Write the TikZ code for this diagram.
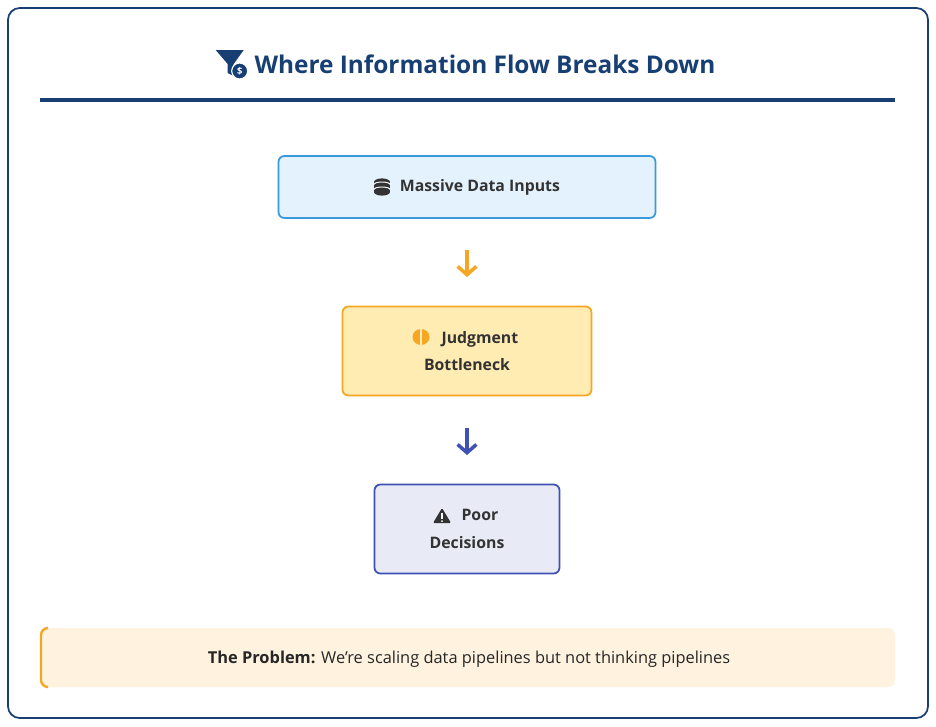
\documentclass[tikz,border=0pt]{standalone}
\usepackage{fontspec}
\setmainfont{Open Sans}
\usetikzlibrary{arrows.meta,positioning}
\definecolor{navy}{HTML}{173F73}
\definecolor{inblue}{HTML}{3A9AD9}
\definecolor{infill}{HTML}{E3F2FD}
\definecolor{jorange}{HTML}{F5A623}
\definecolor{jfill}{HTML}{FFECB3}
\definecolor{pindigo}{HTML}{3F51B5}
\definecolor{pfill}{HTML}{E8EAF6}
\definecolor{notefill}{HTML}{FFF3E0}
\definecolor{ink}{HTML}{333333}
\tikzset{
  stage/.style={draw=#1,line width=1.5pt,rounded corners=5pt,align=center,text=ink,
    font=\fontsize{13.5}{23.5}\selectfont\bfseries},
  flow/.style={-{Straight Barb[length=7pt,width=16pt,line width=3pt]},line width=3pt,#1}
}
\begin{document}
\begin{tikzpicture}[x=0.03cm,y=-0.03cm]
\useasboundingbox (0,0) rectangle (936,726);

% frame
\draw[navy,line width=1.5pt,rounded corners=10pt,fill=white] (8,8) rectangle (928,718);

% title
\node[text=navy,font=\fontsize{20.8}{24}\selectfont\bfseries] (title) at (485,64) {Where Information Flow Breaks Down};
\begin{scope}[shift={(title.west)},xshift=-22]
  \fill[navy] (-9,-14) -- (19,-14) -- (9,0) -- (9,12) -- (3,9) -- (3,0) -- cycle;
  \fill[navy,draw=white,line width=1pt] (15,7) circle (8);
  \node[white,font=\fontsize{8}{8}\selectfont\bfseries,inner sep=0] at (15,7) {\$};
\end{scope}
\draw[navy,line width=3pt] (40,100) -- (895,100);

% stages
\node[stage=inblue,fill=infill,minimum width=377*0.03cm,minimum height=62*0.03cm] (inputs) at (467,187) {\hspace{22pt}Massive Data Inputs};
\node[stage=jorange,fill=jfill,minimum width=249*0.03cm,minimum height=89*0.03cm] (judge) at (467,351) {\hspace{22pt}Judgment\\Bottleneck};
\node[stage=pindigo,fill=pfill,minimum width=185*0.03cm,minimum height=89*0.03cm] (poor) at (467,529) {\hspace{22pt}Poor\\Decisions};

% icons
\begin{scope}[shift={(382,187)}]
  \foreach \yy in {-5,0,5} \fill[ink] (0,\yy) ellipse (8 and 3.6);
  \fill[ink] (-8,-5) rectangle (8,5);
  \draw[white,line width=0.8pt] (-8,-2.5) arc[start angle=180,end angle=360,x radius=8,y radius=2.5];
  \draw[white,line width=0.8pt] (-8,2.5) arc[start angle=180,end angle=360,x radius=8,y radius=2.5];
\end{scope}
\begin{scope}[shift={(421,337)}]
  \fill[jorange] (0,0) ellipse (8.5 and 8);
  \draw[jfill,line width=1pt] (0,-8) -- (0,8);
\end{scope}
\begin{scope}[shift={(442,516)}]
  \fill[ink,rounded corners=1pt] (-9,7) -- (0,-8) -- (9,7) -- cycle;
  \draw[white,line width=1.6pt] (0,-3) -- (0,2.5);
  \fill[white] (0,5) circle (1);
\end{scope}

% arrows
\coordinate (a1) at (467,250);
\coordinate (a2) at (467,428);
\draw[flow=jorange] (a1) -- ++(0,27);
\draw[flow=pindigo] (a2) -- ++(0,27);

% note
\fill[notefill,rounded corners=6pt] (40,628) rectangle (895,687);
\draw[jorange,line width=2pt,rounded corners=6pt] (46,628) -- (41,628) -- (41,687) -- (46,687);
\node[text=black!85,font=\fontsize{14}{16}\selectfont] (note) at (469,659) {\textbf{The Problem:} We're scaling data pipelines but not thinking pipelines};
\end{tikzpicture}
\end{document}
